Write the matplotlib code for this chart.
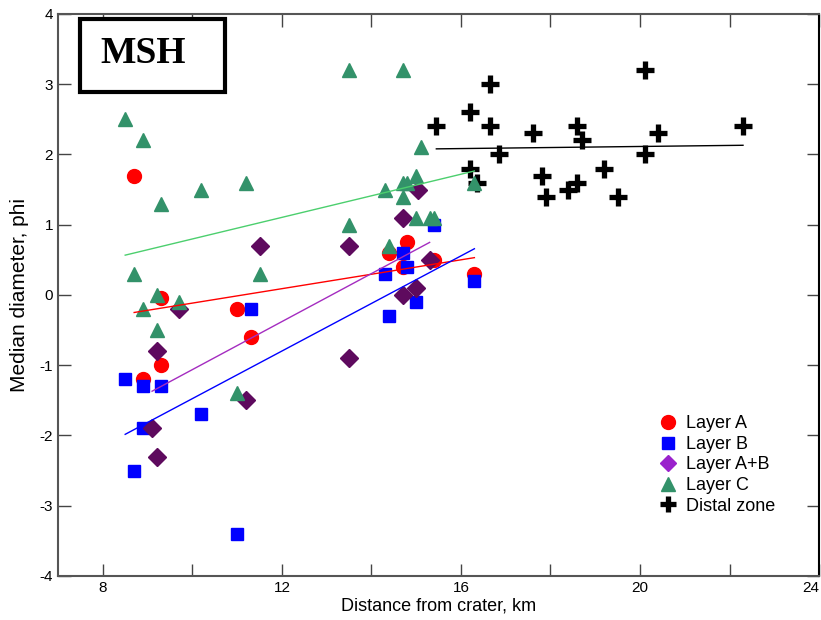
import numpy as np
import matplotlib
matplotlib.use("Agg")
import matplotlib.pyplot as plt
from matplotlib.lines import Line2D
from matplotlib.patches import Rectangle

plt.rcParams["font.family"] = ["Liberation Sans", "DejaVu Sans"]
plt.rcParams["axes.unicode_minus"] = False

# data (distance km, median diameter phi)
layer_a_x = [8.7, 8.9, 9.3, 9.3, 11.0, 11.3, 14.4, 14.7, 14.8, 15.4, 16.3]
layer_a_y = [1.7, -1.2, -0.05, -1.0, -0.2, -0.6, 0.6, 0.4, 0.75, 0.5, 0.3]

layer_b_x = [8.5, 8.9, 9.3, 8.9, 8.7, 10.2, 11.3, 11.0, 14.4, 15.0, 16.3,
             14.3, 14.7, 14.8, 15.4]
layer_b_y = [-1.2, -1.3, -1.3, -1.9, -2.5, -1.7, -0.2, -3.4, -0.3, -0.1, 0.2,
             0.3, 0.6, 0.4, 1.0]

layer_ab_x = [15.05, 14.7, 11.5, 13.5, 15.3, 15.0, 14.7, 9.7, 9.2, 13.5,
              11.2, 9.1, 9.2]
layer_ab_y = [1.5, 1.1, 0.7, 0.7, 0.5, 0.1, 0.0, -0.2, -0.8, -0.9, -1.5,
              -1.9, -2.3]

layer_c_x = [13.5, 14.7, 8.5, 8.9, 15.1, 15.0, 14.7, 14.8, 16.3, 14.3, 11.2,
             10.2, 9.3, 14.7, 15.0, 15.3, 15.4, 13.5, 14.4, 8.7, 11.5, 9.2,
             9.7, 8.9, 9.2, 11.0]
layer_c_y = [3.2, 3.2, 2.5, 2.2, 2.1, 1.7, 1.6, 1.6, 1.6, 1.5, 1.6,
             1.5, 1.3, 1.4, 1.1, 1.1, 1.1, 1.0, 0.7, 0.3, 0.3, 0.0,
             -0.1, -0.2, -0.5, -1.4]

distal_x = [15.45, 16.65, 16.2, 16.65, 16.85, 16.2, 16.35, 17.6, 17.8, 17.9,
            18.4, 18.6, 18.6, 18.7, 19.2, 19.5, 20.1, 20.1, 20.4, 22.3]
distal_y = [2.4, 3.0, 2.6, 2.4, 2.0, 1.8, 1.6, 2.3, 1.7, 1.4,
            1.5, 1.6, 2.4, 2.2, 1.8, 1.4, 3.2, 2.0, 2.3, 2.4]

fig = plt.figure(figsize=(8.21, 6.2), dpi=100)
ax = fig.add_axes([0.0707, 0.071, 0.927, 0.9065])

ax.plot(layer_a_x, layer_a_y, "o", color="red", ms=10, mec="red")
ax.plot(layer_b_x, layer_b_y, "s", color="blue", ms=9, mec="blue")
ax.plot(layer_ab_x, layer_ab_y, "D", color="#5e0a5e", ms=9, mec="#5e0a5e")
ax.plot(distal_x, distal_y, "+", color="black", ms=13, mew=3.8)
ax.plot(layer_c_x, layer_c_y, "^", color="#33926a", ms=10, mec="#33926a")

# least-squares trend lines over each group's range
fits = [
    (layer_a_x, layer_a_y, "red"),
    (layer_b_x, layer_b_y, "blue"),
    (layer_ab_x, layer_ab_y, "#a42cc0"),
    (layer_c_x, layer_c_y, "#4ccf6e"),
    (distal_x, distal_y, "black"),
]
for xs, ys, col in fits:
    k, b = np.polyfit(xs, ys, 1)
    xx = np.array([min(xs), max(xs)])
    ax.plot(xx, k * xx + b, color=col, lw=1)

ax.set_xlim(7, 24)
ax.set_ylim(-4, 4)
ax.set_xticks([8, 10, 12, 14, 16, 18, 20, 22, 24])
ax.set_xticklabels(["8", "", "12", "", "16", "", "20", "", "24"])
ax.get_xticklabels()[-1].set_horizontalalignment("right")
ax.set_yticks(range(-4, 5))
ax.tick_params(direction="in", length=9, width=1, top=True, right=True,
               labelsize=11, colors="#444444", labelcolor="black")
for side in ["left", "bottom", "top"]:
    ax.spines[side].set_color("#555555")
    ax.spines[side].set_linewidth(1.5)
ax.spines["right"].set_color("black")
ax.spines["right"].set_linewidth(1.5)

ax.set_xlabel("Distance from crater, km", fontsize=13, labelpad=2)
ax.set_ylabel("Median diameter, phi", fontsize=15, labelpad=8)

# site label box
ax.add_patch(Rectangle((0.029, 0.861), 0.19, 0.13, transform=ax.transAxes,
                       fc="white", ec="black", lw=3, zorder=5))
ax.text(0.112, 0.93, "MSH", transform=ax.transAxes, ha="center", va="center",
        fontsize=27, fontweight="bold", family="Liberation Serif", zorder=6)

handles = [
    Line2D([], [], ls="", marker="o", color="red", ms=10),
    Line2D([], [], ls="", marker="s", color="blue", ms=9),
    Line2D([], [], ls="", marker="D", color="#9a22cc", ms=8),
    Line2D([], [], ls="", marker="^", color="#33926a", ms=10),
    Line2D([], [], ls="", marker="+", color="black", ms=12, mew=3.8),
]
labels = ["Layer A", "Layer B", "Layer A+B", "Layer C", "Distal zone"]
ax.legend(handles, labels, loc="upper left", bbox_to_anchor=(0.79, 0.286),
          frameon=False, fontsize=13, handlelength=1.0, handletextpad=0.5,
          labelspacing=0.2, borderpad=0, borderaxespad=0)

fig.savefig("out.png", dpi=100)
